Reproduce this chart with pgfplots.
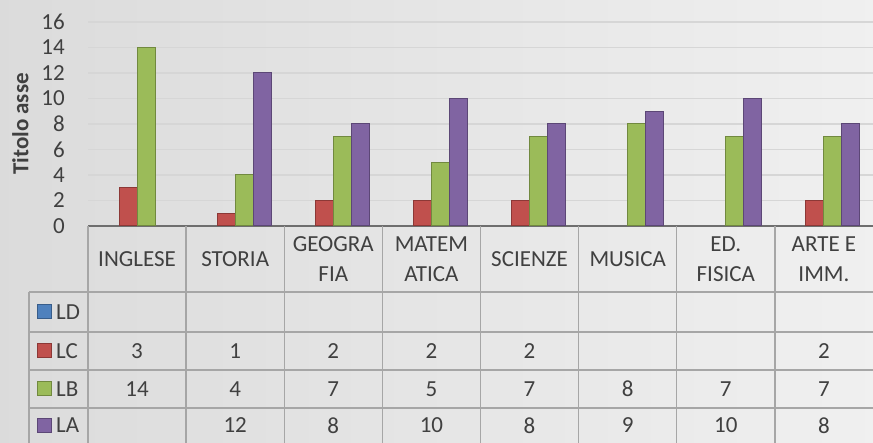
\documentclass[border=0pt]{standalone}
\usepackage{pgfplots}
\pgfplotsset{compat=1.18}
\usepackage{fontspec}
\setmainfont{Carlito}
\definecolor{txt}{HTML}{404040}
\definecolor{cLD}{HTML}{4F81BD}
\definecolor{cLC}{HTML}{C0504D}
\definecolor{cLB}{HTML}{9BBB59}
\definecolor{cLA}{HTML}{8064A2}
\definecolor{eLD}{HTML}{385D8A}
\definecolor{eLC}{HTML}{8C3836}
\definecolor{eLB}{HTML}{71893F}
\definecolor{eLA}{HTML}{5C4776}
\definecolor{gridc}{HTML}{D6D6D6}
\definecolor{tabc}{HTML}{A6A6A6}
\definecolor{axc}{HTML}{6E6E6E}

\begin{document}
\begin{tikzpicture}[x=1pt,y=1pt]
% background, also the bounding box
\shade[left color=black!14, right color=black!6, use as bounding box] (0,0) rectangle (873,443);

\begin{axis}[
    at={(88pt,217pt)}, anchor=south west,
    scale only axis,
    width=785pt, height=204pt,
    xmin=-0.5, xmax=7.5,
    ymin=0, ymax=16,
    ytick={0,2,...,16},
    xtick=\empty,
    ymajorgrids,
    grid style={gridc, line width=1.5pt},
    axis x line*=bottom,
    axis y line*=left,
    y axis line style={draw=none},
    x axis line style={axc, line width=1.2pt, -},
    major tick length=0pt,
    font=\fontsize{23}{27}\selectfont,
    /pgf/number format/assume math mode=true,
    ytick style={draw=none},
    yticklabel style={txt, inner sep=0pt, anchor=east, xshift=-23pt},
    ybar, bar width=18pt,
    clip=false,
]
% LD has no values
\addplot[fill=cLC, draw=eLC, line width=1pt, bar shift=-9pt] coordinates {
    (0,3) (1,1) (2,2) (3,2) (4,2) (7,2)
};
\addplot[fill=cLB, draw=eLB, line width=1pt, bar shift=9pt] coordinates {
    (0,14) (1,4) (2,7) (3,5) (4,7) (5,8) (6,7) (7,7)
};
\addplot[fill=cLA, draw=eLA, line width=1pt, bar shift=27pt] coordinates {
    (1,12) (2,8) (3,10) (4,8) (5,9) (6,10) (7,8)
};
\end{axis}

% axis title
\node[rotate=90, font=\fontsize{23}{27}\selectfont\bfseries, text=txt] at (20.5,319) {Titolo asse};

% data table grid
\begin{scope}[tabc, line width=1.3pt]
  \foreach \k in {0,...,7} {
    \draw ({88+98.125*\k},217) -- ({88+98.125*\k},0);
  }
  \draw (29,151) -- (29,0);
  \foreach \yy in {151,111,73,35} {
    \draw (29,\yy) -- (873,\yy);
  }
\end{scope}

% header texts
\begin{scope}[font=\fontsize{23}{30}\selectfont, text=txt]
  \foreach \lab [count=\i from 0] in {INGLESE,STORIA,GEOGRA\\FIA,MATEM\\ATICA,SCIENZE,MUSICA,ED.\\FISICA,ARTE E\\IMM.} {
    \node[align=center] at ({137.06+98.125*\i},184) {\lab};
  }
  % legend keys
  \foreach \nm/\yy/\cf/\ce in {LD/131/cLD/eLD,LC/92/cLC/eLC,LB/54/cLB/eLB,LA/17.5/cLA/eLA} {
    \filldraw[fill=\cf, draw=\ce, line width=1pt] (37.5,\yy-7) rectangle (51,\yy+7);
    \node[anchor=west, inner sep=0pt] at (56,\yy) {\nm};
  }
  % values
  \foreach \v [count=\i from 0] in {3,1,2,2,2,,,2} {
    \node at ({137.06+98.125*\i},92) {\v};
  }
  \foreach \v [count=\i from 0] in {14,4,7,5,7,8,7,7} {
    \node at ({137.06+98.125*\i},54) {\v};
  }
  \foreach \v [count=\i from 0] in {,12,8,10,8,9,10,8} {
    \node at ({137.06+98.125*\i},17.5) {\v};
  }
\end{scope}
\end{tikzpicture}
\end{document}
